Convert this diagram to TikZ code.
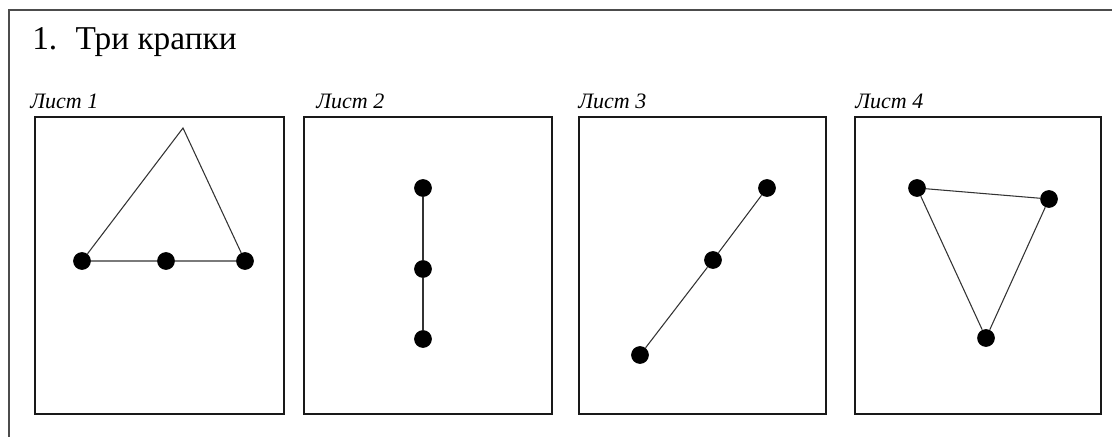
\documentclass[tikz,border=0pt]{standalone}
\usepackage{fontspec}
\setmainfont{Liberation Serif}
\begin{document}
\begin{tikzpicture}[x=0.75pt,y=-0.75pt,
  sheet/.style={draw=black!90, line width=1.1pt},
  dot/.style={circle, fill=black, inner sep=0pt, minimum size=13.3pt},
  link/.style={draw=black!80, line width=0.8pt},
  sheetlabel/.style={anchor=base west, inner sep=0pt, font=\fontsize{16.5pt}{18pt}\selectfont\itshape},
  frame/.style={draw=black!70, line width=1pt}]
\useasboundingbox (0,0) rectangle (1112,436);
% outer frame (only top and left edges visible)
\draw[frame] (9,437) -- (9,10) -- (1113,10);
% title
\node[anchor=base west, inner sep=0pt, font=\fontsize{25pt}{28pt}\selectfont] (title) at (32,49) {1.\hspace{0.55em}Три крапки};
% labels
\node[sheetlabel] (l1) at (30,108) {Лист 1};
\node[sheetlabel] (l2) at (316,108) {Лист 2};
\node[sheetlabel] (l3) at (578,108) {Лист 3};
\node[sheetlabel] (l4) at (855,108) {Лист 4};
% sheets
\draw[sheet] (35,117) rectangle (284,414);
\draw[sheet] (304,117) rectangle (552,414);
\draw[sheet] (579,117) rectangle (826,414);
\draw[sheet] (855,117) rectangle (1101,414);
% sheet 1
\coordinate (a0) at (183,128);
\node[dot] (a1) at (82,261) {};
\node[dot] (a2) at (166,261) {};
\node[dot] (a3) at (245,261) {};
\draw[link] (a1) -- (a2) -- (a3) -- (a0) -- (a1);
% sheet 2
\node[dot] (b1) at (423,188) {};
\node[dot] (b2) at (423,269) {};
\node[dot] (b3) at (423,339) {};
\draw[link] (b1) -- (b2) -- (b3);
% sheet 3
\node[dot] (c1) at (767,188) {};
\node[dot] (c2) at (713,260) {};
\node[dot] (c3) at (640,355) {};
\draw[link] (c1) -- (c2) -- (c3);
% sheet 4
\node[dot] (d1) at (917,188) {};
\node[dot] (d2) at (1049,199) {};
\node[dot] (d3) at (986,338) {};
\draw[link] (d1) -- (d2) -- (d3) -- (d1);
\end{tikzpicture}
\end{document}
